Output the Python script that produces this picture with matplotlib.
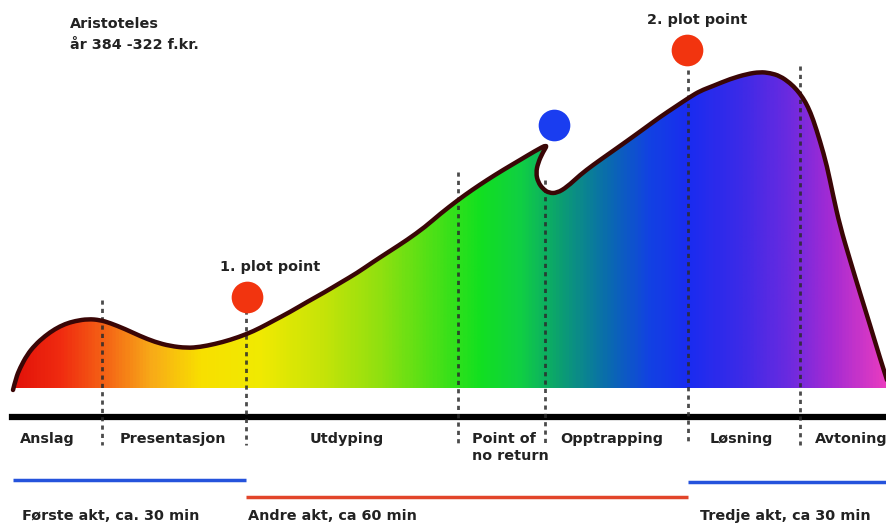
import numpy as np
import matplotlib
matplotlib.use("Agg")
import matplotlib.pyplot as plt
from matplotlib.colors import LinearSegmentedColormap
from matplotlib.patches import PathPatch
from matplotlib.path import Path

# dramatic arc profile (pixel-like units, y grows downward)
arc_x = [13, 16, 20, 27, 35, 45, 55, 65, 75, 88, 100, 110, 125, 140, 155, 170, 187,
         200, 215, 230, 247, 260, 273, 290, 307, 325, 340, 357, 373, 390, 407, 425,
         440, 458, 472, 487, 503, 520, 535, 548, 543, 538, 536, 538, 543, 549, 557,
         567, 580, 593, 610, 627, 645, 660, 675, 690, 700, 713, 730, 747, 760, 770,
         780, 790, 797, 803, 808, 813, 820, 827, 833, 840, 850, 860, 870, 880, 887]
arc_y = [390, 378, 368, 355, 345, 336, 329, 324, 321, 319, 320, 323, 329, 336, 342,
         346, 348, 347, 344, 340, 334, 328, 321, 312, 302, 292, 283, 273, 262, 251,
         240, 227, 214, 200, 190, 180, 170, 160, 151, 144, 152, 163, 173, 182, 189,
         193, 193, 187, 175, 165, 153, 141, 128, 117, 107, 97, 91, 86, 79, 74, 72,
         73, 76, 83, 90, 98, 107, 119, 141, 166, 195, 226, 260, 293, 325, 358, 380]
ground_y = 388

# colour of the fill at a given x position
grad_x = [13, 60, 110, 150, 200, 260, 320, 380, 440, 480, 520, 560, 610, 650,
          690, 740, 790, 830, 887]
grad_colors = ["#e2120a", "#f02c10", "#f56c16", "#f8aa18", "#f8e000", "#f0ea02",
               "#c8e408", "#90e010", "#44e018", "#12e020", "#10d042", "#0ca070",
               "#0a6ab0", "#1242e2", "#1a2cf0", "#3a2ae8", "#6a2ae0", "#a02ad4",
               "#e83cc0"]

# dotted section dividers
div_x = [102, 246, 458, 545, 688, 800]
div_top = [300, 310, 172, 180, 70, 66]
div_bottom = 445

# section labels
sections = ["Anslag", "Presentasjon", "Utdyping", "Point of\nno return",
            "Opptrapping", "Løsning", "Avtoning"]
section_x = [20, 120, 347, 472, 560, 710, 815]
section_ha = ["left", "left", "center", "left", "left", "left", "left"]

# acts
acts = ["Første akt, ca. 30 min", "Andre akt, ca 60 min", "Tredje akt, ca 30 min"]
act_start = [13, 246, 688]
act_end = [246, 688, 887]
act_line_y = [480, 497, 482]
act_colors = ["#2553dc", "#e2452a", "#2553dc"]
act_label_x = [22, 248, 700]

# markers
dot_x = [247, 554, 687]
dot_y = [297, 125, 50]
dot_colors = ["#f2340f", "#1a3df0", "#f2340f"]
dot_labels = ["1. plot point", "", "2. plot point"]
dot_label_x = [220, 0, 647]
dot_label_y = [267, 0, 20]


def smooth_path(xs, ys, close_to=None):
    # quadratic bezier through midpoints, the listed points act as control points
    pts = np.column_stack([xs, ys]).astype(float)
    verts = [pts[0]]
    codes = [Path.MOVETO]
    for i in range(1, len(pts) - 1):
        verts += [pts[i], (pts[i] + pts[i + 1]) / 2]
        codes += [Path.CURVE3, Path.CURVE3]
    verts.append(pts[-1])
    codes.append(Path.LINETO)
    if close_to is not None:
        verts += [(xs[-1], close_to), (xs[0], close_to), pts[0]]
        codes += [Path.LINETO, Path.LINETO, Path.CLOSEPOLY]
    return Path(verts, codes)


fig = plt.figure(figsize=(8.87, 5.24), dpi=100)
ax = fig.add_axes([0, 0, 1, 1])
ax.set_xlim(0, 887)
ax.set_ylim(524, 0)
ax.axis("off")

# gradient fill clipped to the arc
pos = [(x - grad_x[0]) / (grad_x[-1] - grad_x[0]) for x in grad_x]
cmap = LinearSegmentedColormap.from_list("arc", list(zip(pos, grad_colors)))
grad = np.linspace(0, 1, 800).reshape(1, -1)
img = ax.imshow(grad, cmap=cmap, aspect="auto", interpolation="bilinear",
                extent=[grad_x[0], grad_x[-1], ground_y, min(arc_y) - 2], zorder=1)
clip = PathPatch(smooth_path(arc_x, arc_y, close_to=ground_y),
                 facecolor="none", edgecolor="none", transform=ax.transData)
ax.add_patch(clip)
img.set_clip_path(clip)

ax.add_patch(PathPatch(smooth_path(arc_x, arc_y), facecolor="none",
                       edgecolor="#3a0606", lw=3.2, capstyle="round",
                       joinstyle="round", zorder=4))

# baseline
ax.plot([12, 887], [417, 417], color="black", lw=4.5, zorder=3)

for x, top in zip(div_x, div_top):
    ax.plot([x, x], [top, div_bottom], color="#2b2b2b", lw=2.0, alpha=0.85,
            dashes=(1.5, 1.5), zorder=3)

for name, x, ha in zip(sections, section_x, section_ha):
    ax.text(x, 432, name, ha=ha, va="top", fontsize=10.4, fontweight="bold",
            color="#222222", linespacing=1.25, zorder=5)

for x0, x1, y, c in zip(act_start, act_end, act_line_y, act_colors):
    ax.plot([x0, x1], [y, y], color=c, lw=2.5, solid_capstyle="butt", zorder=3)

for name, x in zip(acts, act_label_x):
    ax.text(x, 516, name, ha="left", va="center", fontsize=10.4,
            fontweight="bold", color="#222222")

for x, y, c, lab, lx, ly in zip(dot_x, dot_y, dot_colors, dot_labels,
                                 dot_label_x, dot_label_y):
    ax.scatter([x], [y], s=520, color=c, zorder=6, linewidths=0)
    if lab:
        ax.text(lx, ly, lab, ha="left", va="center", fontsize=10.4,
                fontweight="bold", color="#222222")

ax.text(70, 24, "Aristoteles", ha="left", va="center", fontsize=10.4,
        fontweight="bold", color="#222222")
ax.text(70, 45, "år 384 -322 f.kr.", ha="left", va="center", fontsize=10.4,
        fontweight="bold", color="#222222")

fig.savefig("out.png", dpi=100)
